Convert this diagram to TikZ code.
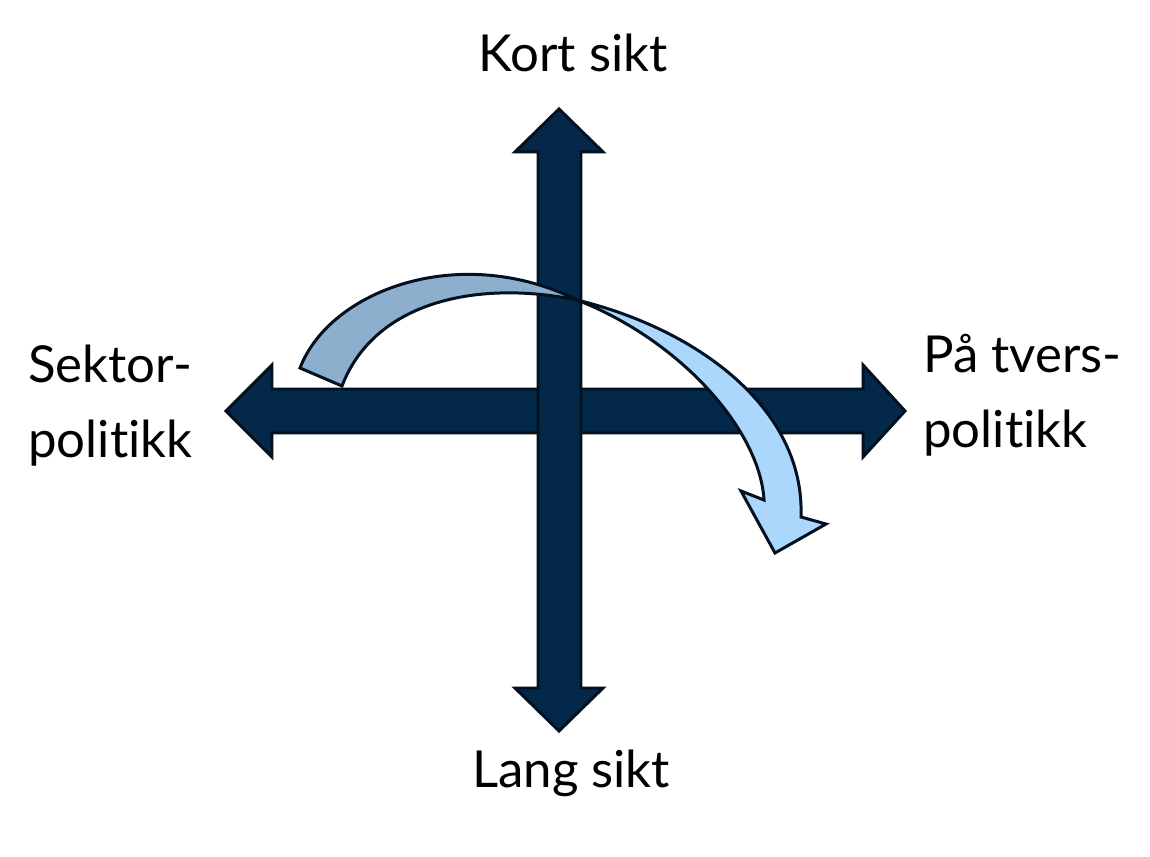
\documentclass[tikz,border=0pt]{standalone}
\usepackage{fontspec}
\setmainfont{Lato}[Ligatures={NoCommon,NoRare}]
\usetikzlibrary{calc,positioning}
\definecolor{navy}{RGB}{3,40,74}
\definecolor{navyline}{RGB}{2,16,31}
\definecolor{steel}{RGB}{139,175,204}
\definecolor{sky}{RGB}{171,215,253}

\begin{document}
\begin{tikzpicture}[x=0.02cm, y=-0.02cm,
		axisarrow/.style={fill=navy, draw=navyline, line width=1.7pt, line join=miter},
		bendarrow/.style={draw=navyline, line width=1.7pt, line join=miter},
		lbl/.style={font=\fontsize{29}{43}\selectfont, inner sep=0pt, align=left}]
		\useasboundingbox (0,0) rectangle (1150,857);
		% horizontal double arrow
		\draw [axisarrow] (226,411) -- (272,365) -- (272,389) -- (863,389) -- (863,365) -- (905,411)
			-- (863,457) -- (863,433) -- (272,433) -- (272,457) -- cycle;
		% vertical double arrow
		\draw [axisarrow] (559,109) -- (603,152) -- (581,152) -- (581,688) -- (603,688) -- (559,731)
			-- (515,688) -- (538,688) -- (538,152) -- (515,152) -- cycle;
		% curved arrow, back part
		\draw [bendarrow, fill=steel] (300,368) .. controls (330,290) and (460,242) .. (577,300)
			.. controls (480,280) and (375,300) .. (342,386) -- cycle;
		% curved arrow, front part with head
		\draw [bendarrow, fill=sky] (577,300) .. controls (700,330) and (805,410) .. (801,517)
			-- (826,524) -- (775,553) -- (741,491) -- (764,500)
			.. controls (760,430) and (680,340) .. (577,300) -- cycle;
		% labels
		\node [lbl, anchor=base] (kort) at (573,72) {Kort sikt};
		\node [lbl, anchor=base] (lang) at (571,788) {Lang sikt};
		\node [lbl, anchor=base west] (sektor) at (28,458) {Sektor-\\politikk};
		\node [lbl, anchor=base west] (tvers) at (923,448) {På tvers-\\politikk};
\end{tikzpicture}
\end{document}
